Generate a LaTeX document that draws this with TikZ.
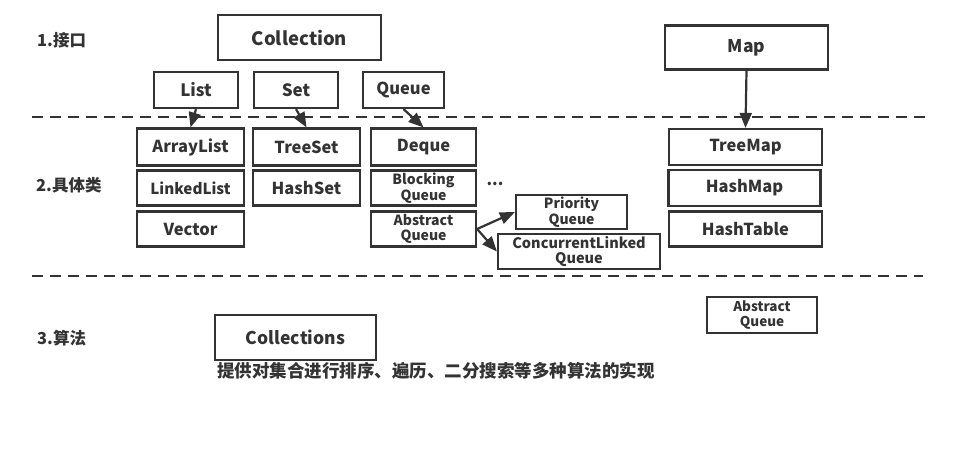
\documentclass[tikz,border=0pt]{standalone}
\usepackage{fontspec}
\setmainfont{Noto Sans CJK SC}
\usetikzlibrary{arrows.meta}
\definecolor{ink}{HTML}{333333}
\newcommand{\fs}[1]{\fontsize{#1}{\dimexpr #1pt*12/10\relax}\selectfont}
\newcommand{\fss}[1]{\fontsize{#1}{\dimexpr #1pt*11/10\relax}\selectfont}
\begin{document}
\begin{tikzpicture}[x=1pt,y=-1pt,
  box/.style={draw=ink,line width=2.2pt,text=ink,font=\bfseries,inner sep=0pt,align=center},
  sep/.style={draw=ink,line width=2.6pt,dash pattern=on 11pt off 7pt},
  arr/.style={draw=ink,line width=2.2pt,-{Triangle[length=15pt,width=12pt]}},
  lbl/.style={text=ink,font=\bfseries\fontsize{16.5}{18}\selectfont,inner sep=0pt,anchor=west}]
\useasboundingbox[fill=white] (0,0) rectangle (967,448);
% labels
\node[lbl] (l1) at (37,40) {1.接口};
\node[lbl] (l2) at (36,185) {2.具体类};
\node[lbl] (l3) at (37,338) {3.算法};
% separators
\coordinate (s1a) at (32,117); \coordinate (s1b) at (928,117);
\coordinate (s2a) at (32,276); \coordinate (s2b) at (923,276);
\draw[sep] (s1a) -- (s1b);
\draw[sep] (s2a) -- (s2b);
% interfaces
\node[box,minimum width=163pt,minimum height=45pt,font=\bfseries\fs{18.5}] (coll) at (299.5,37.5) {Collection};
\node[box,minimum width=84pt,minimum height=36pt,font=\bfseries\fs{17}] (list) at (196,90) {List};
\node[box,minimum width=84pt,minimum height=36pt,font=\bfseries\fs{17}] (set) at (296,90) {Set};
\node[box,minimum width=81pt,minimum height=36pt,font=\bfseries\fs{16.5}] (queue) at (403.5,90) {Queue};
\node[box,minimum width=163pt,minimum height=44pt,font=\bfseries\fs{17.5}] (map) at (746.5,47.5) {Map};
% concrete classes
\node[box,minimum width=107pt,minimum height=37pt,font=\bfseries\fs{16.5}] (arraylist) at (190.5,147) {ArrayList};
\node[box,minimum width=107pt,minimum height=37pt,font=\bfseries\fs{16.5}] (treeset) at (306.5,147) {TreeSet};
\node[box,minimum width=105pt,minimum height=37pt,font=\bfseries\fs{16.5}] (deque) at (423.5,147) {Deque};
\node[box,minimum width=107pt,minimum height=35pt,font=\bfseries\fs{15.2}] (linkedlist) at (190.5,188) {LinkedList};
\node[box,minimum width=107pt,minimum height=35pt,font=\bfseries\fs{16.5}] (hashset) at (306.5,188) {HashSet};
\node[box,minimum width=105pt,minimum height=35pt,font=\bfseries\fss{14}] (blocking) at (423.5,188) {Blocking\\Queue};
\node[text=ink,font=\bfseries\fs{16},inner sep=0pt] (dots) at (495,184) {...};
\node[box,minimum width=107pt,minimum height=35pt,font=\bfseries\fs{16.5}] (vector) at (190.5,229) {Vector};
\node[box,minimum width=105pt,minimum height=35pt,font=\bfseries\fss{14}] (abstract) at (423.5,229) {Abstract\\Queue};
\node[box,minimum width=111pt,minimum height=34pt,font=\bfseries\fss{14}] (priority) at (571.5,212) {Priority\\Queue};
\node[box,minimum width=162pt,minimum height=35pt,font=\bfseries\fss{14.5}] (concurrent) at (579,251.5) {ConcurrentLinked\\Queue};
\node[box,minimum width=153pt,minimum height=36pt,font=\bfseries\fs{16.5}] (treemap) at (745.5,147) {TreeMap};
\node[box,minimum width=152pt,minimum height=36pt,font=\bfseries\fs{16.5}] (hashmap) at (744.5,188) {HashMap};
\node[box,minimum width=153pt,minimum height=35pt,font=\bfseries\fs{16.5}] (hashtable) at (745.5,229) {HashTable};
% algorithms
\node[box,minimum width=161pt,minimum height=45pt,font=\bfseries\fs{17.5}] (collections) at (295.5,337.5) {Collections};
\node[text=ink,font=\bfseries\fontsize{17.5}{19}\selectfont,inner sep=0pt,anchor=west] (desc) at (217,371) {提供对集合进行排序、遍历、二分搜索等多种算法的实现};
\node[box,minimum width=110pt,minimum height=36pt,font=\bfseries\fss{13.5}] (abstract2) at (762,315) {Abstract\\Queue};
% arrows
\draw[arr] (list.south) -- (arraylist.north);
\draw[arr] (set.south) -- (treeset.north);
\draw[arr] (queue.south) -- (deque.north);
\draw[arr] (map.south) -- (treemap.north);
\draw[arr] (abstract.east) -- (priority.west);
\draw[arr] (abstract.east) -- (concurrent.west);
\end{tikzpicture}
\end{document}
